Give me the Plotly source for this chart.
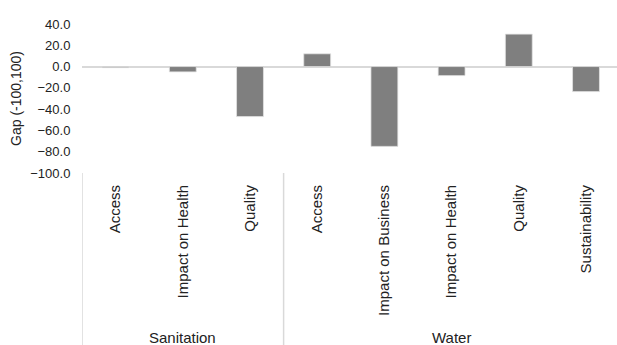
import plotly.graph_objects as go

# Gap scores by service area and dimension
groups = ["Sanitation", "Sanitation", "Sanitation", "Water", "Water", "Water", "Water", "Water"]
dimensions = ["Access", "Impact on Health", "Quality",
              "Access", "Impact on Business", "Impact on Health", "Quality", "Sustainability"]
gaps = [-1.0, -5.0, -47.0, 12.0, -75.0, -8.5, 30.5, -23.5]

y_ticks = [40, 20, 0, -20, -40, -60, -80, -100]

FONT = "Liberation Sans, Arial, sans-serif"
TEXT = "#222222"
LINE = "#d9d9d9"

W, H = 617, 345
M_L, M_T, M_B = 82, 24, 172
plot_h = H - M_T - M_B

positions = list(range(len(dimensions)))

fig = go.Figure(go.Bar(
    x=positions,
    y=gaps,
    width=0.4,
    marker=dict(color="#7f7f7f", line=dict(color="#e3e3e3", width=0.75)),
))

# group separators below the axis
bounds = [-0.5]
for i in range(1, len(groups)):
    if groups[i] != groups[i - 1]:
        bounds.append(i - 0.5)
bounds.append(len(groups) - 0.5)

shapes = [
    dict(type="line", xref="x", yref="paper", x0=b, x1=b, y0=0,
         y1=-(H - M_T - plot_h) / plot_h, line=dict(color=LINE, width=1.5))
    for b in bounds
]

annotations = []
for a, b in zip(bounds[:-1], bounds[1:]):
    name = groups[int(a + 0.5)]
    annotations.append(dict(
        x=(a + b) / 2, y=0, xref="x", yref="paper", text=name, showarrow=False,
        xanchor="center", yanchor="top", yshift=-154,
        font=dict(family=FONT, size=15, color=TEXT),
    ))

fig.update_layout(
    width=W, height=H,
    margin=dict(l=M_L, r=0, t=M_T, b=M_B, pad=0),
    paper_bgcolor="white", plot_bgcolor="white",
    showlegend=False,
    bargap=0.6,
    shapes=shapes,
    annotations=annotations,
    font=dict(family=FONT, color=TEXT),
)

fig.update_xaxes(
    tickmode="array", tickvals=positions, ticktext=dimensions,
    range=[-0.5, -0.5 + (W - M_L) / 67.2],
    tickangle=-90, ticks="outside", ticklen=5, tickcolor="rgba(0,0,0,0)",
    tickfont=dict(family=FONT, size=15, color=TEXT),
    showgrid=False, zeroline=False, showline=False,
)

fig.update_yaxes(
    range=[-100, 40], tickvals=y_ticks, tickformat=".1f",
    ticks="outside", ticklen=8, tickcolor="rgba(0,0,0,0)",
    tickfont=dict(family=FONT, size=13, color=TEXT),
    showgrid=False, showline=False,
    zeroline=True, zerolinecolor=LINE, zerolinewidth=1.5,
    title=dict(text="Gap (-100,100)", standoff=5,
               font=dict(family=FONT, size=14, color=TEXT)),
)

fig.write_html("out.html", config={"displayModeBar": False})
